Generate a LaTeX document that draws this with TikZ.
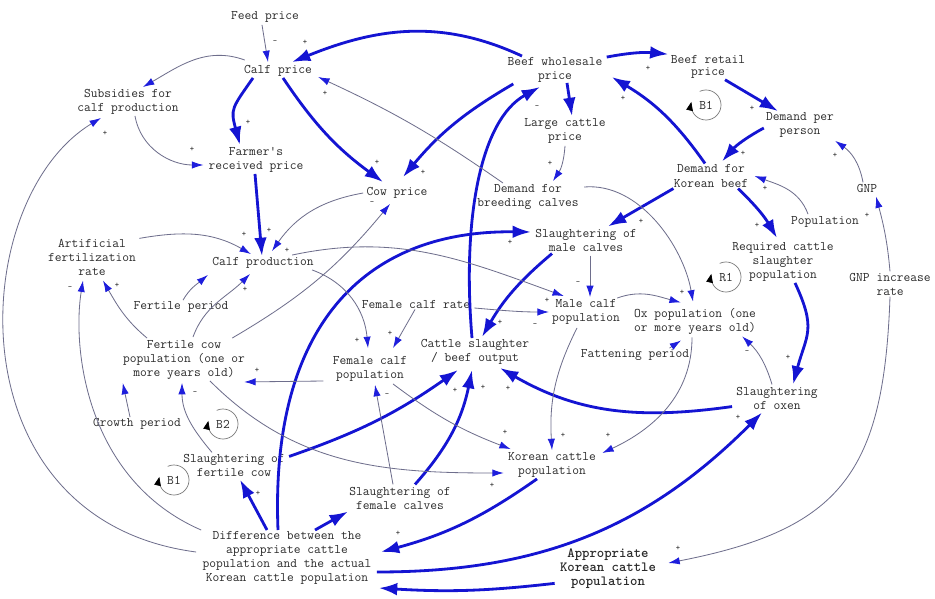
\documentclass[tikz,border=0pt]{standalone}
\usepackage{tikz}
\usetikzlibrary{arrows.meta,positioning,calc}
\definecolor{ink}{HTML}{2B2B2B}
\definecolor{linkblue}{HTML}{1414D2}
\definecolor{linkgray}{HTML}{6E6E8C}
\definecolor{tipblue}{HTML}{1E1EDC}
\definecolor{ringgray}{HTML}{7A7A7A}
\newcommand{\cldfont}{\ttfamily\fontsize{11.2}{12}\selectfont}
\newcommand{\sgnfont}{\ttfamily\fontsize{7}{7}\selectfont}
\tikzset{
  var/.style={font=\cldfont,align=center,inner sep=1pt,text=ink},
  keyvar/.style={font=\ttfamily\bfseries\fontsize{12}{12}\selectfont,
                 align=center,inner sep=1pt,text=ink},
  strong/.style={draw=linkblue,line width=2.4pt,
                 -{Latex[length=5.5mm,width=3.8mm]}},
  weak/.style={draw=linkgray,line width=0.7pt,
               -{Latex[length=3.4mm,width=2.2mm,color=tipblue]}},
  sgn/.style={font=\sgnfont,text=ink,inner sep=0pt},
  looptag/.style={font=\cldfont,text=ink,inner sep=0pt},
  loopring/.style={draw=ringgray,line width=0.6pt,
                   -{Triangle[length=2.6mm,width=2mm,black]}}
}
\begin{document}
\begin{tikzpicture}[x=0.03cm,y=-0.03cm]
  \path[use as bounding box,fill=white] (0,0) rectangle (935,599);

  \node[var] (feed) at (265,17) {Feed price};
  \node[var] (calfprice) at (278,71) {Calf price};
  \node[var] (subs) at (128,102) {Subsidies for\\calf production};
  \node[var] (frp) at (256,160) {Farmer's\\received price};
  \node[var] (bwp) at (555,70) {Beef wholesale\\price};
  \node[var] (brp) at (708,67) {Beef retail\\[-2pt]price};
  \node[var] (dpp) at (800,125) {Demand per\\person};
  \node[var] (lcp) at (565,131) {Large cattle\\price};
  \node[var] (dkb) at (711,176) {Demand for\\Korean beef};
  \node[var] (cowprice) at (397,193) {Cow price};
  \node[var] (dbc) at (528,197) {Demand for\\breeding calves};
  \node[var] (gnp) at (867,188) {GNP};
  \node[var] (popn) at (825,222) {Population};
  \node[var] (smc) at (586,240) {Slaughtering of\\male calves};
  \node[var] (rcsp) at (783,262) {Required cattle\\slaughter\\population};
  \node[var] (afr) at (92,257) {Artificial\\fertilization\\rate};
  \node[var] (calfprod) at (263,263) {Calf production};
  \node[var] (gnpir) at (890,284) {GNP increase\\rate};
  \node[var] (fp) at (181,307) {Fertile period};
  \node[var] (fcr) at (416,304) {Female calf rate};
  \node[var] (mcp) at (586,312) {Male calf\\population};
  \node[var] (oxp) at (695,321) {Ox population (one\\or more years old)};
  \node[var] (fcp) at (184,360) {Fertile cow\\population (one or\\more years old)};
  \node[var] (cs) at (475,352) {Cattle slaughter\\/ beef output};
  \node[var] (fcalfp) at (370,369) {Female calf\\population};
  \node[var] (fatp) at (635,355) {Fattening period};
  \node[var] (so) at (777,398) {Slaughtering\\of oxen};
  \node[var] (gp) at (137,424) {Growth period};
  \node[var] (sfc) at (234,465) {Slaughtering of\\fertile cow};
  \node[var] (kcp) at (552,465) {Korean cattle\\population};
  \node[var] (sfcalves) at (400,498) {Slaughtering of\\female calves};
  \node[var] (diff) at (287,558) {Difference between the\\appropriate cattle\\population and the actual\\Korean cattle population};
  \node[keyvar] (acp) at (608,569) {Appropriate\\Korean cattle\\population};

  \node[looptag] (loopbone) at (706,105) {B1};
  \node[looptag] (looprone) at (726,277) {R1};
  \node[looptag] (loopbtwo) at (223,424) {B2};
  \node[looptag] (loopbthree) at (174,480) {B1};
  \foreach \lp in {loopbone,looprone,loopbtwo,loopbthree}
    \draw[loopring] ([shift={(-115:15)}]\lp.center)
      arc[start angle=-115,end angle=192,radius=15];

  \draw[strong] ($(bwp.north)+(-33,0)$) to[out=155,in=22] ($(calfprice.north)+(14,-2)$);
  \draw[strong] ($(bwp.north east)+(3,1)$) to[bend left=8] ($(brp.north west)+(-1,0)$);
  \draw[strong] ($(brp.south)+(17,0)$) -- ($(dpp.north)+(-22,0)$);
  \draw[strong] ($(dpp.west)+(-1,3)$) to[bend right=10] ($(dkb.north)+(11,-2)$);
  \draw[strong] ($(dkb.north)+(-6,0)$) to[bend right=12] ($(bwp.east)+(8,7)$);
  \draw[strong] ($(bwp.south)+(12,-1)$) -- ($(lcp.north)+(7,-1)$);
  \draw[strong] ($(bwp.south west)+(7,0)$) to[bend right=10] ($(cowprice.north)+(6,-9)$);
  \draw[strong] ($(cs.north)+(-3,0)$) .. controls +(-10,-118) and +(-60,33) .. ($(bwp.south)+(-15,3)$);
  \draw[strong] ($(calfprice.south)+(-25,0)$) to[out=235,in=105,looseness=1.4] ($(frp.north)+(-16,-1)$);
  \draw[strong] ($(calfprice.south)+(5,0)$) to[bend right=10] ($(cowprice.north)+(-14,-4)$);
  \draw[strong] ($(frp.south)+(-1,0)$) -- ($(calfprod.north)+(-1,0)$);
  \draw[strong] ($(dkb.south west)+(1,0)$) -- ($(smc.north)+(22,-1)$);
  \draw[strong] ($(dkb.south)+(27,0)$) to[bend left=8] ($(rcsp.north)+(-6,-3)$);
  \draw[strong] ($(rcsp.south)+(12,0)$) to[out=-65,in=75,looseness=1.3] ($(so.north)+(16,-1)$);
  \draw[strong] ($(smc.south)+(-34,1)$) to[bend right=10] ($(cs.north)+(7,-1)$);
  \draw[strong] ($(so.south west)+(-3,-4)$) to[out=188,in=-30] ($(cs.south)+(25,2)$);
  \draw[strong] ($(sfc.north east)+(3,4)$) to[bend right=8] ($(cs.south)+(-17,4)$);
  \draw[strong] ($(sfcalves.north)+(15,-1)$) to[bend right=15] ($(cs.south)+(-3,4)$);
  \draw[strong] ($(diff.north)+(-9,0)$) .. controls +(-8,-200) and +(-170,-2) .. ($(smc.west)+(-3,-8)$);
  \draw[strong] ($(diff.north)+(-20,0)$) -- ($(sfc.south)+(6,2)$);
  \draw[strong] ($(diff.north)+(28,0)$) -- ($(sfcalves.south west)+(0,1)$);
  \draw[strong] ($(kcp.south)+(-15,0)$) to[bend left=10] ($(diff.east)+(8,-6)$);
  \draw[strong] ($(diff.east)+(4,14)$) to[out=0,in=225] ($(so.south west)+(27,2)$);
  \draw[strong] ($(acp.south west)+(-4,-7)$) to[bend left=5] ($(diff.south east)+(6,2)$);

  \draw[weak] ($(feed.south)+(-3,1)$) -- ($(calfprice.north)+(-10,-2)$);
  \draw[weak] ($(calfprice.north west)+(2,-4)$) to[out=160,in=30] ($(subs.north)+(15,-1)$);
  \draw[weak] ($(subs.south)+(7,0)$) to[out=-80,in=180] ($(frp.west)+(-4,5)$);
  \draw[weak] ($(diff.west)+(-5,-6)$) .. controls +(-245,-32) and +(-135,82) .. ($(subs.south west)+(25,2)$);
  \draw[weak] (diff.north west) .. controls +(-115,-50) and +(-11,68) .. ($(afr.south)+(-9,4)$);
  \draw[weak] ($(gp.north)+(-7,0)$) -- ($(fcp.south west)+(1,2)$);
  \draw[weak] ($(sfc.north)+(-22,0)$) to[out=130,in=-90] ($(fcp.south)+(-2,2)$);
  \draw[weak] ($(fcp.south)+(26,0)$) to[out=-45,in=180] ($(kcp.west)+(-3,8)$);
  \draw[weak] ($(afr.north east)+(2,1)$) to[out=10,in=150] ($(calfprod.north west)+(40,-2)$);
  \draw[weak] ($(fp.north)+(2,0)$) to[out=60,in=220] ($(calfprod.south west)+(-3,5)$);
  \draw[weak] ($(fcp.north)+(9,-2)$) to[out=70,in=225] ($(calfprod.south)+(-13,4)$);
  \draw[weak] ($(fcp.north)+(-37,-1)$) to[out=140,in=-60] ($(afr.south)+(11,4)$);
  \draw[weak] ($(fcp.north east)+(-14,-1)$) to[bend right=10] ($(cowprice.south)+(-7,4)$);
  \draw[weak] ($(cowprice.west)+(-2,0)$) to[out=190,in=55] ($(calfprod.north)+(9,-5)$);
  \draw[weak] ($(dbc.north)+(-25,0)$) to[bend right=5] ($(calfprice.east)+(5,6)$);
  \draw[weak] ($(lcp.south)+(0,1)$) to[bend left=15] ($(dbc.north)+(25,-2)$);
  \draw[weak] ($(dbc.north east)+(4,4)$) to[out=5,in=100,looseness=0.9] ($(oxp.north)+(-2,-5)$);
  \draw[weak] ($(calfprod.north east)+(-23,-1)$) to[out=12,in=160] ($(mcp.north west)+(13,-2)$);
  \draw[weak] ($(calfprod.south east)+(-3,0)$) to[out=-20,in=95] ($(fcalfp.north)+(-2,-7)$);
  \draw[weak] ($(fcr.south)+(-1,0)$) -- ($(fcalfp.north)+(23,-7)$);
  \draw[weak] ($(fcr.east)+(3,4)$) to[out=-5,in=180] ($(mcp.west)+(-2,0)$);
  \draw[weak] ($(smc.south)+(4,3)$) -- ($(mcp.north)+(4,-1)$);
  \draw[weak] ($(mcp.north east)+(-4,0)$) to[out=20,in=165] ($(oxp.north west)+(48,-4)$);
  \draw[weak] ($(mcp.south)+(-9,2)$) to[bend right=15] ($(kcp.north)+(0,-1)$);
  \draw[weak] ($(oxp.south)+(-3,2)$) to[out=-90,in=25] ($(kcp.east)+(5,-12)$);
  \draw[weak] ($(fatp.north east)+(-21,0)$) -- ($(oxp.south)+(-14,5)$);
  \draw[weak] ($(so.north)+(-5,-1)$) to[bend right=15] ($(oxp.south east)+(-15,1)$);
  \draw[weak] ($(fcalfp.west)+(-8,12)$) -- ($(fcp.south east)+(-2,1)$);
  \draw[weak] ($(fcalfp.south)+(23,1)$) to[bend right=8] ($(kcp.north west)+(4,-2)$);
  \draw[weak] ($(sfcalves.north)+(-7,-1)$) -- ($(fcalfp.south)+(5,2)$);
  \draw[weak] ($(popn.north)+(-17,-1)$) to[out=110,in=-20] ($(dkb.east)+(5,0)$);
  \draw[weak] ($(gnp.north)+(-4,0)$) to[out=100,in=-35] ($(dpp.south east)+(0,2)$);
  \draw[weak] (gnpir.north) to[out=95,in=-75] ($(gnp.south)+(9,3)$);
  \draw[weak] (gnpir.south) to[out=-92,in=11,looseness=1.3] ($(acp.east)+(11,-6)$);

  \foreach \sx/\sy/\sv [count=\si] in {305/42/+,275/42/-,248/122/+,192/149/+,
      105/133/+,377/162/+,423/172/+,325/93/+,537/107/-,648/68/+,623/98/+,
      752/108/+,743/153/+,550/163/+,765/188/+,835/155/+,372/203/-,244/234/+,
      269/230/+,287/250/+,245/289/+,70/288/-,117/285/+,641/221/+,757/225/+,
      867/215/+,510/242/+,578/283/-,547/300/+,535/325/-,682/292/+,500/322/+,
      357/340/+,390/333/+,747/352/-,788/357/+,257/370/+,195/393/-,387/395/-,
      455/390/+,483/387/+,508/388/+,738/417/+,563/435/+,608/435/+,505/432/+,
      492/485/+,258/493/+,398/533/+,678/548/+}
    \node[sgn] (sgn\si) at (\sx,\sy) {\sv};
\end{tikzpicture}
\end{document}
